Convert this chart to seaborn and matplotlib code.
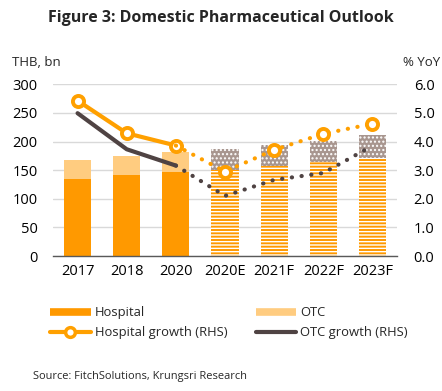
import matplotlib
matplotlib.use("Agg")
import matplotlib.pyplot as plt
import seaborn as sns
import pandas as pd
import numpy as np
from matplotlib.lines import Line2D

categories = ["2017", "2018", "2020", "2020E", "2021F", "2022F", "2023F"]
hospital = [135, 142, 147, 151, 158, 164, 171]
otc = [33, 33, 35, 36, 36, 37, 41]
forecast_flags = [False, False, False, True, True, True, True]

hosp_growth_actual_x = ["2017", "2018", "2020"]
hosp_growth_actual = [5.43, 4.29, 3.86]
hosp_growth_fc_x = ["2020", "2020E", "2021F", "2022F", "2023F"]
hosp_growth_fc = [3.86, 2.95, 3.71, 4.27, 4.62]

otc_growth_actual_x = ["2017", "2018", "2020"]
otc_growth_actual = [4.99, 3.73, 3.16]
otc_growth_fc_x = ["2020", "2020E", "2021F", "2022F", "2023F"]
otc_growth_fc = [3.16, 2.10, 2.66, 2.90, 3.85]

left_ticks = [0, 50, 100, 150, 200, 250, 300]
right_ticks = [0, 1, 2, 3, 4, 5, 6]

ORANGE = "#FF9900"
LIGHT = "#FFCC80"
GRAYDOT = "#A8968F"
DARK = "#4F4343"
LINE_OR = "#FFA000"

sns.set_theme(style="white")
plt.rcParams["font.family"] = ["Open Sans", "DejaVu Sans"]
plt.rcParams["hatch.linewidth"] = 1.0

df = pd.DataFrame({"cat": categories, "hospital": hospital, "otc": otc})
df["total"] = df["hospital"] + df["otc"]

fig = plt.figure(figsize=(4.42, 3.91), dpi=100)
ax = fig.add_axes([53 / 442, 1 - 256 / 391, (397 - 53) / 442, (256 - 84.3) / 391])

sns.barplot(data=df, x="cat", y="total", color=LIGHT, saturation=1, width=0.55, ax=ax, order=categories)
n = len(categories)
sns.barplot(data=df, x="cat", y="hospital", color=ORANGE, saturation=1, width=0.55, ax=ax, order=categories)

patches = ax.patches
for i, p in enumerate(patches[:n]):
    p.set_linewidth(0)
    if forecast_flags[i]:
        p.set_facecolor(GRAYDOT)
        p.set_edgecolor("white")
        p.set_hatch("....")
for i, p in enumerate(patches[n:2 * n]):
    p.set_linewidth(0)
    if forecast_flags[i]:
        p.set_facecolor(ORANGE)
        p.set_edgecolor("white")
        p.set_hatch("-----")

ax.set_ylim(0, 300)
ax.set_xlim(-0.5, n - 0.5)
ax.set_yticks(left_ticks)
ax.set_xlabel("")
ax.set_ylabel("")
ax.grid(axis="y", color="#D9D9D9", lw=1)
ax.set_axisbelow(True)
for s in ["top", "left", "right"]:
    ax.spines[s].set_visible(False)
ax.spines["bottom"].set_color("#595959")
ax.spines["bottom"].set_linewidth(1)
ax.tick_params(axis="y", length=0, pad=11, labelsize=10.5, labelcolor="black")
ax.tick_params(axis="x", length=0, pad=6, labelsize=10.5, labelcolor="black")

ax2 = ax.twinx()
ax2.set_ylim(0, 6)
ax2.set_yticks(right_ticks)
ax2.set_yticklabels([f"{v:.1f}" for v in right_ticks])
ax2.tick_params(axis="y", length=0, pad=12, labelsize=10.5, labelcolor="black")
for s in ["top", "left", "right", "bottom"]:
    ax2.spines[s].set_visible(False)
ax2.grid(False)

ax2.plot(otc_growth_actual_x, otc_growth_actual, color=DARK, lw=3, solid_capstyle="round", zorder=3)
ax2.plot(otc_growth_fc_x, otc_growth_fc, color=DARK, lw=3, linestyle=(0, (0.05, 2.3)),
         dash_capstyle="round", zorder=3)
ax2.plot(hosp_growth_actual_x, hosp_growth_actual, color=LINE_OR, lw=3, solid_capstyle="round",
         marker="o", ms=8, mfc="white", mec=LINE_OR, mew=2.8, zorder=4, clip_on=False)
ax2.plot(hosp_growth_fc_x, hosp_growth_fc, color=LINE_OR, lw=3, linestyle=(0, (0.05, 2.3)),
         dash_capstyle="round", zorder=4, clip_on=False)
ax2.plot(hosp_growth_fc_x[1:], hosp_growth_fc[1:], linestyle="none",
         marker="o", ms=8, mfc="white", mec=LINE_OR, mew=2.8, zorder=5, clip_on=False)

fig.text(221 / 442, 1 - 18 / 391, "Figure 3: Domestic Pharmaceutical Outlook", ha="center", va="center",
         fontsize=11.5, fontweight="bold")
fig.text(12 / 442, 1 - 62 / 391, "THB, bn", ha="left", va="center", fontsize=9.5)
fig.text(440 / 442, 1 - 62 / 391, "% YoY", ha="right", va="center", fontsize=9.5)
fig.text(33 / 442, 1 - 376 / 391, "Source: FitchSolutions, Krungsri Research", ha="left", va="center",
         fontsize=7.9)

handles = [
    Line2D([0], [0], color=ORANGE, lw=5.5, solid_capstyle="butt"),
    Line2D([0], [0], color=LINE_OR, lw=3, solid_capstyle="round", marker="o", ms=7,
           mfc="white", mec=LINE_OR, mew=2.5),
    Line2D([0], [0], color=LIGHT, lw=5.5, solid_capstyle="butt"),
    Line2D([0], [0], color=DARK, lw=3, solid_capstyle="round"),
]
labels = ["Hospital", "Hospital growth (RHS)", "OTC", "OTC growth (RHS)"]
fig.legend(handles, labels, ncol=2, loc="upper left", bbox_to_anchor=(45 / 442, 1 - 301 / 391),
           frameon=False, fontsize=9.4, handlelength=3.1, handletextpad=0.3, columnspacing=2.2,
           labelspacing=0.55, borderaxespad=0)

fig.savefig("out.png", dpi=100)
